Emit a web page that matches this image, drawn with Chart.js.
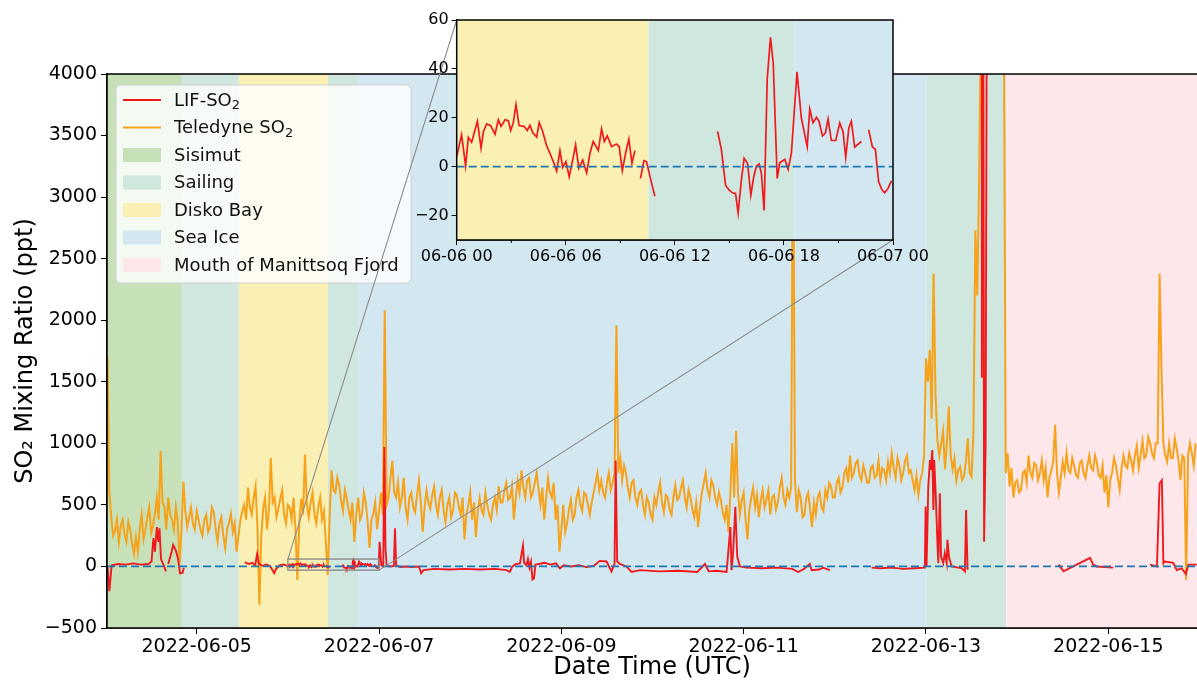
<!DOCTYPE html>
<html>
<head>
<meta charset="utf-8">
<script src="https://cdn.jsdelivr.net/npm/chart.js@4.4.1/dist/chart.umd.min.js"></script>
<style>
  html, body { margin: 0; padding: 0; background: #fff; }
  #wrap { position: relative; width: 1197px; height: 684px; }
  #chart { position: absolute; left: 0; top: 0; }
  #inset { position: absolute; left: 400px; top: 0; }
</style>
</head>
<body>
<div id="wrap">
  <canvas id="chart" width="1197" height="684"></canvas>
  <canvas id="inset" width="540" height="280"></canvas>
</div>
<script>
// all times are hours since 2022-06-04 00:00 UTC
const xRange = [0.38, 287.35];
const dateTicks = [24, 72, 120, 168, 216, 264];
const dateLabels = ['2022-06-05', '2022-06-07', '2022-06-09', '2022-06-11', '2022-06-13', '2022-06-15'];
const yTicks = [-500, 0, 500, 1000, 1500, 2000, 2500, 3000, 3500, 4000];

// zoomed day (inset)
const dayTicks = [48, 54, 60, 66, 72];
const dayMinor = [51, 57, 63, 69];
const dayLabels = ['06-06 00', '06-06 06', '06-06 12', '06-06 18', '06-07 00'];
const dayYTicks = [-20, 0, 20, 40, 60];
const dayYRange = [-30, 60];

// ship location periods
const regions = ['Sisimut', 'Sailing', 'Disko Bay', 'Sailing', 'Sea Ice', 'Sailing', 'Mouth of Manittsoq Fjord'];
const regionEdges = [0, 20.1, 35.1, 58.55, 66.57, 216.2, 237.1, 290];

// Teledyne SO2, every half hour from hour 0.5
const teledyneStart = 0.5;
const teledyneStep = 0.5;
const teledyneSO2 = [
  1700, 600, 400, 250, 290, 380, 200, 330, 380, 260, 200, 360,
  300, 180, 100, 240, 120, 300, 420, 220, 300, 400, 480, 270,
  330, 430, 560, 380, 940, 520, 480, 300, 560, 420, 380, 300,
  480, 360, 30, 300, 690, 450, 320, 400, 480, 350, 300, 450,
  380, 300, 250, 380, 420, 280, 320, 480, 440, 300, 200, 350,
  400, 250, 150, 300, 360, 430, 280, 350, 120, 250, 380, 450,
  500, 380, 640, 480, 420, 560, 650, 300, -310, 250, 470, 560,
  300, 450, 880, 520, 560, 400, 470, 550, 620, 420, 350, 500,
  480, 380, 560, 300, -110, 350, 550, 420, 910, 500, 400, 520,
  600, 420, 350, 480, 560, 380, 450, 200, -70, 400, 780, 620,
  600, 720, 660, 540, 450, 620, 550, 460, 380, 520, 200, 420,
  560, 380, 420, 600, 520, 360, 150, 380, 430, 520, 300, 450,
  600, 420, 2080, 500, 560, 720, 860, 600, 560, 680, 480, 560,
  720, 480, 380, 560, 600, 480, 440, 580, 700, 520, 280, 480,
  620, 520, 470, 580, 650, 500, 420, 560, 620, 460, 360, 500,
  560, 400, 460, 600, 580, 480, 420, 560, 220, 420, 500, 600,
  380, 520, 240, 450, 560, 460, 420, 600, 500, 420, 380, 500,
  560, 460, 650, 520, 520, 620, 680, 540, 560, 650, 380, 560,
  700, 600, 780, 640, 560, 700, 720, 560, 600, 680, 760, 620,
  500, 640, 380, 560, 720, 600, 560, 680, 380, 500, 120, 300,
  500, 280, 350, 460, 540, 380, 420, 560, 620, 500, 450, 600,
  580, 500, 420, 520, 600, 680, 760, 620, 700, 600, 560, 680,
  760, 620, 680, 760, 1960, 760, 880, 700, 820,
  760, 640, 560, 680, 700, 560, 500, 600, 620, 500, 420, 560,
  520, 420, 380, 560, 500, 600, 680, 520, 440, 580, 560, 460,
  420, 560, 660, 540, 560, 640, 700, 560, 480, 620, 560, 460,
  400, 520, 320, 480, 600, 680, 760, 620, 560, 700, 660, 560,
  500, 600, 540, 440, 380, 500, 280, 600, 1000, 560, 1100, 600,
  420, 540, 600, 380, 220, 460, 560, 640, 480, 580, 400, 540,
  620, 480, 540, 620, 420, 560, 580, 460, 520, 640, 720, 560,
  500, 620, 560, 640, 3900, 700, 440, 620, 560, 400, 420, 560,
  600, 460, 320, 520, 420, 560, 600, 480, 450, 620, 560, 680,
  650, 560, 560, 680, 720, 600, 640, 760, 800, 680, 900, 720,
  760, 840, 860, 740, 700, 820, 760, 680, 680, 800, 820, 720,
  740, 860, 700, 800, 780, 700, 850, 760, 920, 800, 720, 880,
  820, 700, 760, 860, 900, 760, 780, 700, 620, 740, 580, 700,
  760, 900, 1690, 1500, 1760, 1200, 2380, 1400, 1030, 900, 1000, 1100,
  790, 1000, 1300, 900, 790, 880, 700, 780, 810, 700, 730, 850,
  1040, 760, 730, 1100, 2730, 2200, 3170, 4500, 4500, 4500, 4500, 4500,
  4500, 4500, 4500, 4500, 4500, 4500, 4500, 4500,
  760, 920, 650, 800, 560, 680, 700, 600, 620, 760, 780, 680,
  900, 760, 720, 840, 820, 700, 760, 860, 700, 800, 560, 720,
  780, 860, 1150, 760, 600, 720, 850, 760, 920, 780, 760, 880,
  820, 740, 720, 840, 860, 760, 720, 820, 900, 800, 780, 900,
  840, 740, 720, 820, 600, 740, 480, 700, 760, 880, 820, 720,
  620, 800, 900, 820, 800, 920, 860, 780, 900, 980, 800, 900,
  1020, 880, 900, 1050, 1000, 920, 880, 1000, 1000, 2380, 1600, 1000,
  900, 850, 1000, 880, 880, 1040, 960, 860, 700, 900, 880, -110,
  900, 1000, 920, 820, 1000
];

// LIF-SO2 [hour, ppt], null = no data
const lifBefore = [
  [0.5, 0], [1.0, -200], [1.6, 10], [3.3, 20], [5.3, 15], [7.3, 25], [9.3, 15], [11.3, 20], [12.1, 40],
  [12.6, 230], [13.0, 120], [13.5, 320], [13.9, 200], [14.2, 310], [14.6, 60], [15.3, 10], [15.9, -40], [16.2, null],
  [16.5, 20], [17.4, 120], [17.8, 175], [18.5, 130], [19.1, 60], [19.6, -55], [20.3, -50], [20.6, -10], [21.3, null],
  [36.7, 35], [37.6, 20], [38.6, 30], [39.4, 10], [39.9, 100], [40.4, 20], [41.4, 5], [42.4, 15], [43.4, 0],
  [44.4, -55], [44.9, -20], [45.9, 10], [46.9, 15], [47.8, 5]
];

// LIF-SO2 on 2022-06-06, [hour of day, ppt]
const lifDay = [
  [0, 4.1], [0.27, 13], [0.49, 0.3], [0.64, 12], [0.82, 10], [1.14, 18.6], [1.34, 7.6], [1.47, 14.4],
  [1.65, 17.5], [1.87, 16.8], [2.11, 13.3], [2.29, 19.2], [2.44, 16.5], [2.66, 19.2], [2.84, 18.8],
  [2.97, 14.8], [3.11, 17.9], [3.26, 25.4], [3.43, 16.8], [3.70, 16.5], [3.88, 14.8], [4.03, 16.9],
  [4.18, 14], [4.40, 12.1], [4.54, 18.1], [4.73, 14.4], [4.95, 8.5], [5.13, 5.5], [5.35, 1.4],
  [5.50, -1.8], [5.68, 6.6], [5.83, -0.3], [6.01, 2.1], [6.19, -4.1], [6.38, 2.7], [6.54, 8.9],
  [6.72, -0.7], [6.93, 2.7], [7.15, -2.5], [7.33, 5.5], [7.51, 10.3], [7.79, 6.6], [7.97, 15.4],
  [8.12, 10.3], [8.28, 12.6], [8.52, 8.2], [8.79, 9.3], [8.94, 8.2], [9.11, -1.6], [9.29, 5.5],
  [9.47, 11.3], [9.64, 1.4], [9.80, 6.5], [9.95, null],
  [10.11, -4.8], [10.30, 2.5], [10.44, 2.1], [10.68, -5.5], [10.90, -12.1], [12, null],
  [14.35, 14.4], [14.56, 7.1], [14.79, -7.6], [14.99, -9.6], [15.17, -10.7], [15.34, -11], [15.48, -19],
  [15.67, -4.8], [15.81, 3.4], [16.0, 1.4], [16.18, -11.7], [16.34, -4.1], [16.49, 0.3], [16.64, 1.1],
  [16.76, -2.7], [16.91, -17.9], [17.08, 35.7], [17.26, 52.9], [17.41, 42.6], [17.63, -4.8], [17.77, 1.6],
  [18.05, 3], [18.23, -1.1], [18.41, 5.5], [18.72, 38.8], [18.96, 19.9], [19.28, 8.2], [19.42, 23.6],
  [19.60, 17.9], [19.79, 20.2], [19.93, 18.6], [20.12, 12.6], [20.28, 13.7], [20.43, 19.5], [20.61, 10.7],
  [20.85, 10.7], [21.07, 17.9], [21.25, 14.4], [21.40, 3.8], [21.57, 15.8], [21.71, 18.6], [21.89, 8],
  [22.26, 10.3], [22.45, null],
  [22.66, 15.1], [22.87, 8], [23.03, 7.1], [23.21, -6.2], [23.40, -9.6], [23.54, -10.7], [23.73, -8.9], [23.91, -5.8]
];
const dayStart = 48;

const lifAfter = [
  [72.15, 200], [72.6, 10], [73.1, 0], [73.4, 970], [73.7, 150], [74.0, 5], [75.0, 0], [75.9, 5], [76.2, 310],
  [76.5, 10], [77.5, -5], [79, 0], [80.5, -5], [82.5, 0], [83.1, -55], [83.7, -30], [86.5, -20], [90.6, -25],
  [94.6, -20], [98.6, -25], [102.6, -20], [105.6, -30], [106.4, -45], [107.1, 0], [108.1, 20], [109.1, 25],
  [109.9, 170], [110.2, 30], [110.8, 10], [111.2, 60], [111.6, -10], [112.0, 40], [112.4, -105], [112.8, -95],
  [113.2, 15], [114.1, 20], [115.6, 30], [117.1, 15], [118.6, 25], [119.6, -15], [120.6, 10], [122.6, 0],
  [124.6, 10], [126.6, -5], [128.6, 5], [130.1, 45], [131.9, 40], [133.2, -40], [134.0, 20], [134.3, 860],
  [134.7, 40], [135.4, 20], [137.1, 0], [138.5, -45], [140.7, -30], [145.7, -40], [150.7, -35], [155.8, -45],
  [157.8, 20], [158.8, -40], [160.8, -35], [163.5, -45], [164.5, 320], [164.8, -30], [165.2, 100], [165.8, 485],
  [166.3, 80], [167.0, 0], [168.8, -10], [172.8, -15], [176.8, -10], [180.8, -20], [182.3, -45], [183.9, -20],
  [185.4, 20], [185.9, -30], [187.9, -25], [188.9, -10], [190.7, -30], [191.1, null],
  [201.7, -10], [204, -15], [207, -10], [210, -20], [213, -15], [215.7, -10], [215.9, 486], [216.15, 0],
  [216.6, 648], [217.05, 865], [217.3, 785], [217.65, 946], [217.95, 459], [218.15, 865], [218.55, 595],
  [218.8, 378], [219.05, 162], [219.25, 27], [219.65, 595], [219.95, 81], [220.55, 27], [220.95, 108],
  [221.45, 27], [221.65, 216], [222.05, 81], [222.75, 0], [225.35, -14], [226.25, -41], [226.55, 459],
  [226.95, -27], [227.3, null],
  [230.5, 1540], [230.7, 4500], [231.1, 4500], [231.3, 200], [231.7, 1000], [232.0, 4500], [232.6, 4500], [232.9, null],
  [250.9, 15], [252.2, -40], [259.2, 70], [260.0, 15], [260.9, 0], [265.3, -10], [265.7, null],
  [275.0, 15], [276.8, 0], [277.5, 675], [278.1, 700], [278.5, 25], [278.9, 40], [281.1, 30], [282.0, -30],
  [283.3, -15], [284.4, -60], [285.1, 15], [287.3, 15]
];

const seriesNames = ['LIF-SO₂', 'Teledyne SO₂'];

// styles
const lineColors = { lif: '#f01a1e', teledyne: '#f7a21b' };
const regionColors = {
  'Sisimut': '#c6e1b8',
  'Sailing': '#cfe7df',
  'Disko Bay': '#faf0b3',
  'Sea Ice': '#d2e7f0',
  'Mouth of Manittsoq Fjord': '#fde7eb'
};
const zeroColor = '#1f77b4';

Chart.defaults.font.family = "'DejaVu Sans', sans-serif";
Chart.defaults.color = '#000';

const minus = v => String(v).replace('-', '\u2212');
const toXY = pairs => pairs.map(([h, v]) => ({ x: h, y: v }));

const lifDayXY = toXY(lifDay.map(([h, v]) => [h + dayStart, v]));
const lifMain = [...toXY(lifBefore), ...lifDayXY, ...toXY(lifAfter)];
const teledyne = teledyneSO2.map((v, i) => ({ x: teledyneStart + i * teledyneStep, y: v }));

// coloured background for each period
const bandsPlugin = {
  id: 'bands',
  beforeDatasetsDraw(chart) {
    const { ctx, chartArea: a, scales: { x } } = chart;
    ctx.save();
    ctx.beginPath();
    ctx.rect(a.left, a.top, a.width, a.height);
    ctx.clip();
    if (chart.canvas.id === 'inset') {
      ctx.fillStyle = '#fff';
      ctx.fillRect(a.left, a.top, a.width, a.height);
    }
    for (let i = 0; i < regions.length; i++) {
      const x0 = x.getPixelForValue(regionEdges[i]);
      const x1 = x.getPixelForValue(regionEdges[i + 1]);
      ctx.fillStyle = regionColors[regions[i]];
      ctx.fillRect(x0, a.top, x1 - x0, a.height);
    }
    ctx.restore();
  }
};

// dashed line at zero
const zeroLinePlugin = {
  id: 'zeroLine',
  afterDatasetsDraw(chart) {
    const { ctx, chartArea: a, scales: { y } } = chart;
    const py = y.getPixelForValue(0);
    ctx.save();
    ctx.strokeStyle = zeroColor;
    ctx.lineWidth = 1.8;
    ctx.setLineDash([8, 4]);
    ctx.beginPath();
    ctx.moveTo(a.left, py);
    ctx.lineTo(a.right, py);
    ctx.stroke();
    ctx.restore();
  }
};

function subText(ctx, text, x, y, size) {
  const parts = text.split('₂');
  ctx.font = size + "px 'DejaVu Sans'";
  ctx.fillText(parts[0], x, y);
  if (parts.length > 1) {
    const w = ctx.measureText(parts[0]).width;
    ctx.font = Math.round(size * 0.7) + "px 'DejaVu Sans'";
    ctx.fillText('2', x + w, y + size * 0.28);
  }
}

function drawLegend(ctx) {
  const L = 116, T = 85, W = 295, H = 198;
  ctx.save();
  ctx.fillStyle = 'rgba(255,255,255,0.8)';
  ctx.strokeStyle = '#d0d0d0';
  ctx.lineWidth = 1;
  ctx.beginPath();
  ctx.roundRect(L, T, W, H, 4);
  ctx.fill();
  ctx.stroke();

  const names = [...new Set(regions)];
  const rows = [...seriesNames, ...names];
  const lineCol = [lineColors.lif, lineColors.teledyne];
  ctx.textBaseline = 'middle';
  rows.forEach((name, i) => {
    const cy = T + 15 + i * 27.5;
    if (i < 2) {
      ctx.strokeStyle = lineCol[i];
      ctx.lineWidth = 2;
      ctx.beginPath();
      ctx.moveTo(123, cy);
      ctx.lineTo(161, cy);
      ctx.stroke();
    } else {
      ctx.fillStyle = regionColors[name];
      ctx.fillRect(123, cy - 7, 38, 14);
    }
    ctx.fillStyle = '#111';
    subText(ctx, name, 174, cy + 1, 18);
  });
  ctx.restore();
}

const insetFrame = {
  id: 'insetFrame',
  afterDraw(chart) {
    const { ctx, chartArea: a, scales: { x } } = chart;
    ctx.save();
    ctx.strokeStyle = '#000';
    ctx.lineWidth = 1.5;
    ctx.strokeRect(a.left, a.top, a.width, a.height);
    ctx.lineWidth = 1;
    dayMinor.forEach(v => {
      const px = x.getPixelForValue(v);
      ctx.beginPath();
      ctx.moveTo(px, a.bottom);
      ctx.lineTo(px, a.bottom + 3);
      ctx.stroke();
    });
    ctx.restore();
  }
};

const insetCanvas = document.querySelector('#inset');
const insetChart = new Chart(insetCanvas, {
  type: 'line',
  data: {
    datasets: [{ label: seriesNames[0], data: lifDayXY, borderColor: lineColors.lif, borderWidth: 1.7, pointRadius: 0, spanGaps: false }]
  },
  options: {
    responsive: false,
    animation: false,
    events: [],
    layout: { padding: { left: 0, top: 20, right: 47, bottom: 0 } },
    plugins: { legend: { display: false }, tooltip: { enabled: false } },
    scales: {
      x: {
        type: 'linear', min: dayTicks[0], max: dayTicks[dayTicks.length - 1],
        afterBuildTicks: s => { s.ticks = dayTicks.map(v => ({ value: v })); },
        afterFit: s => { s.height = 40; },
        ticks: { callback: (v, i) => dayLabels[i], font: { size: 16 }, maxRotation: 0, autoSkip: false, padding: 2 },
        grid: { drawOnChartArea: false, tickLength: 5, color: '#000' },
        border: { color: '#000', width: 1.5 }
      },
      y: {
        min: dayYRange[0], max: dayYRange[1],
        afterBuildTicks: s => { s.ticks = dayYTicks.map(v => ({ value: v })); },
        afterFit: s => { s.width = 56.7; },
        ticks: { callback: v => minus(v), font: { size: 16 }, padding: 3 },
        grid: { drawOnChartArea: false, tickLength: 5, color: '#000' },
        border: { color: '#000', width: 1.5 }
      }
    }
  },
  plugins: [bandsPlugin, zeroLinePlugin, insetFrame]
});

// spines, zoom box, connector lines, legend
const mainDecor = {
  id: 'mainDecor',
  afterDraw(chart) {
    const { ctx, chartArea: a, scales: { x, y } } = chart;
    ctx.save();
    ctx.strokeStyle = '#000';
    ctx.lineWidth = 1.5;
    ctx.beginPath();
    ctx.moveTo(a.left, a.top);
    ctx.lineTo(a.right, a.top);
    ctx.moveTo(a.left, a.top);
    ctx.lineTo(a.left, a.bottom);
    ctx.lineTo(a.right, a.bottom);
    ctx.stroke();

    drawLegend(ctx);

    const rx0 = x.getPixelForValue(dayTicks[0]);
    const rx1 = x.getPixelForValue(dayTicks[dayTicks.length - 1]);
    const ry0 = y.getPixelForValue(dayYRange[1]);
    const ry1 = y.getPixelForValue(dayYRange[0]);
    const ia = insetChart.chartArea;
    const ox = insetCanvas.offsetLeft, oy = insetCanvas.offsetTop;
    ctx.strokeStyle = '#8c8c8c';
    ctx.lineWidth = 1.4;
    ctx.strokeRect(rx0, ry0, rx1 - rx0, ry1 - ry0);
    ctx.lineWidth = 1.1;
    ctx.beginPath();
    ctx.moveTo(rx0, ry0);
    ctx.lineTo(ox + ia.left, oy + ia.top);
    ctx.moveTo(rx1, ry1);
    ctx.lineTo(ox + ia.right, oy + ia.bottom);
    ctx.stroke();
    ctx.restore();
  }
};

new Chart(document.querySelector('#chart'), {
  type: 'line',
  data: {
    datasets: [
      { label: seriesNames[0], data: lifMain, borderColor: lineColors.lif, borderWidth: 1.9, pointRadius: 0, spanGaps: false },
      { label: seriesNames[1], data: teledyne, borderColor: lineColors.teledyne, borderWidth: 2, pointRadius: 0 }
    ]
  },
  options: {
    responsive: false,
    animation: false,
    events: [],
    layout: { padding: { left: 0, top: 74, right: 0, bottom: 0 } },
    plugins: { legend: { display: false }, tooltip: { enabled: false } },
    scales: {
      x: {
        type: 'linear', min: xRange[0], max: xRange[1],
        afterBuildTicks: s => { s.ticks = dateTicks.map(v => ({ value: v })); },
        afterFit: s => { s.height = 56; },
        ticks: { callback: (v, i) => dateLabels[i], font: { size: 19 }, maxRotation: 0, autoSkip: false, padding: 2 },
        grid: { drawOnChartArea: false, tickLength: 6, color: '#000' },
        border: { color: '#000', width: 1.5 },
        title: { display: true, text: 'Date Time (UTC)', font: { size: 24 }, padding: { top: 0, bottom: 2 } }
      },
      y: {
        min: yTicks[0], max: yTicks[yTicks.length - 1],
        afterBuildTicks: s => { s.ticks = yTicks.map(v => ({ value: v })); },
        afterFit: s => { s.width = 107; },
        ticks: { callback: v => minus(v), font: { size: 19 }, padding: 4 },
        grid: { drawOnChartArea: false, tickLength: 6, color: '#000' },
        border: { color: '#000', width: 1.5 },
        title: { display: true, text: 'SO₂ Mixing Ratio (ppt)', font: { size: 24 }, padding: { top: 11, bottom: 0 } }
      }
    }
  },
  plugins: [bandsPlugin, zeroLinePlugin, mainDecor]
});
</script>
</body>
</html>
